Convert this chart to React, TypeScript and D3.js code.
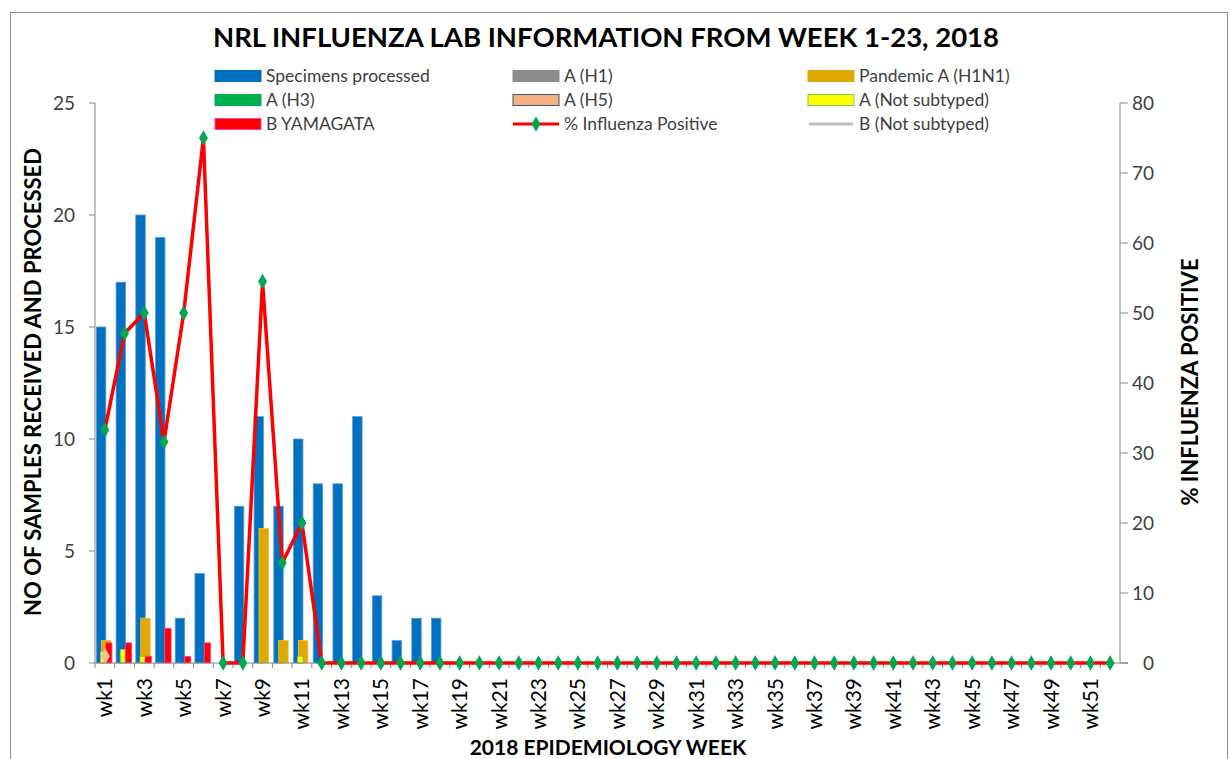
import React from "react";
import * as d3 from "d3";

// weeks 1..52
const weeks: string[] = Array.from({ length: 52 }, (_, i) => "wk" + (i + 1));

const specimens = [15, 17, 20, 19, 2, 4, 0, 7, 11, 7, 10, 8, 8, 11, 3, 1, 2, 2];
const pandemicH1N1 = [1, 0, 2, 0, 0, 0, 0, 0, 6, 1, 1];
const aNotSubtyped = [0.5, 0.6, 0.3, 0, 0, 0, 0, 0, 0, 0, 0.3];
const bYamagata = [0.9, 0.9, 0.3, 1.55, 0.3, 0.9];
const aH5 = [0.3];
const pctPositive = [33.3, 47.1, 50, 31.6, 50, 75, 0, 0, 54.5, 14.3, 20];

const leftTicks = [0, 5, 10, 15, 20, 25];
const rightTicks = [0, 10, 20, 30, 40, 50, 60, 70, 80];

const FONT = "Lato, 'Open Sans', sans-serif";
const TXT = "#404040";
const AXIS = "#868686";

const W = 1231;
const H = 759;
const M = { left: 95, right: 1120, top: 103, bottom: 663 };

const val = (arr: number[], i: number) => (i < arr.length ? arr[i] : 0);

export default function App() {
  const x = d3.scaleBand<string>().domain(weeks).range([M.left, M.right]).padding(0);
  const bw = x.bandwidth();
  const yL = d3.scaleLinear().domain([0, 25]).range([M.bottom, M.top]);
  const yR = d3.scaleLinear().domain([0, 80]).range([M.bottom, M.top]);

  const pct = weeks.map((w, i) => ({ w, v: val(pctPositive, i) }));
  const line = d3
    .line<{ w: string; v: number }>()
    .x((d) => (x(d.w) as number) + bw / 2)
    .y((d) => yR(d.v));

  const diamond = d3.symbol().type(d3.symbolDiamond).size(68)();
  const h5Diamond = d3.symbol().type(d3.symbolDiamond).size(75)();

  // bar series: [values, start frac, end frac, fill, stroke]
  const series: [number[], number, number, string, string][] = [
    [specimens, 0.07, 0.55, "#0070C0", "#5B9BD5"],
    [pandemicH1N1, 0.32, 0.8, "#E0A800", "#F0C040"],
    [aNotSubtyped, 0.28, 0.55, "#FFFF00", "#7CC850"],
    [bYamagata, 0.54, 0.86, "#FF0000", "#FF40A0"],
  ];

  const legend = [
    { label: "Specimens processed", col: 0, row: 0, kind: "rect", fill: "#0070C0", stroke: "#0070C0" },
    { label: "A (H1)", col: 1, row: 0, kind: "rect", fill: "#8C8C8C", stroke: "#8C8C8C" },
    { label: "Pandemic A (H1N1)", col: 2, row: 0, kind: "rect", fill: "#E0A800", stroke: "#E0A800" },
    { label: "A (H3)", col: 0, row: 1, kind: "rect", fill: "#00B050", stroke: "#00B050" },
    { label: "A (H5)", col: 1, row: 1, kind: "rect", fill: "#F4B183", stroke: "#44546A" },
    { label: "A (Not subtyped)", col: 2, row: 1, kind: "rect", fill: "#FFFF00", stroke: "#7CC850" },
    { label: "B YAMAGATA", col: 0, row: 2, kind: "rect", fill: "#FF0000", stroke: "#FF40A0" },
    { label: "% Influenza Positive", col: 1, row: 2, kind: "line", fill: "#FF0000", stroke: "#FF0000" },
    { label: "B (Not subtyped)", col: 2, row: 2, kind: "grey", fill: "#BFBFBF", stroke: "#BFBFBF" },
  ];
  const legCols = [215, 513, 808];
  const legRows = [76, 100, 124];

  return (
    <svg width={W} height={H} style={{ display: "block", position: "absolute", left: 0, top: 0 }}>
      <rect x={0} y={0} width={W} height={H} fill="#fff" />
      <rect x={10.5} y={12.5} width={1217} height={760} fill="none" stroke="#8a8a8a" />

      <text x={606} y={47} textAnchor="middle" fontFamily={FONT} fontWeight="bold" fontSize={27.5} fill="#000">
        NRL INFLUENZA LAB INFORMATION FROM WEEK 1-23, 2018
      </text>

      {/* legend */}
      {legend.map((l) => {
        const lx = legCols[l.col];
        const ly = legRows[l.row];
        return (
          <g key={l.label}>
            {l.kind === "rect" && (
              <rect x={lx} y={ly - 5.5} width={46} height={11} fill={l.fill} stroke={l.stroke} strokeWidth={1} />
            )}
            {l.kind === "line" && (
              <g>
                <line x1={lx} x2={lx + 46} y1={ly} y2={ly} stroke="#FF0000" strokeWidth={3} />
                <path d={diamond as string} transform={`translate(${lx + 23},${ly})`} fill="#00A651" />
              </g>
            )}
            {l.kind === "grey" && (
              <line x1={lx + 2} x2={lx + 44} y1={ly} y2={ly} stroke="#BFBFBF" strokeWidth={3} strokeLinecap="round" />
            )}
            <text x={lx + 51} y={ly + 6} fontFamily={FONT} fontSize={17.5} fill={TXT}>
              {l.label}
            </text>
          </g>
        );
      })}

      {/* bars */}
      {series.map(([arr, a, b, fill, stroke], si) => (
        <g key={si}>
          {weeks.map((w, i) => {
            const v = val(arr, i);
            if (!v) return null;
            const x0 = (x(w) as number) + a * bw;
            return (
              <rect
                key={w}
                x={x0}
                y={yL(v)}
                width={(b - a) * bw}
                height={yL(0) - yL(v)}
                fill={fill}
                stroke={stroke}
                strokeWidth={0.8}
              />
            );
          })}
        </g>
      ))}

      {/* A (H5) */}
      {weeks.map((w, i) => {
        const v = val(aH5, i);
        if (!v) return null;
        return (
          <path
            key={w}
            d={h5Diamond as string}
            transform={`translate(${(x(w) as number) + 0.52 * bw},${yL(v)})`}
            fill="#F7C28F"
          />
        );
      })}

      {/* axes */}
      <line x1={M.left} x2={M.left} y1={M.top} y2={M.bottom} stroke={AXIS} />
      <line x1={M.right} x2={M.right} y1={M.top} y2={M.bottom} stroke={AXIS} />
      <line x1={M.left} x2={M.right + 8} y1={M.bottom} y2={M.bottom} stroke={AXIS} />
      {leftTicks.map((t) => (
        <g key={"l" + t}>
          <line x1={M.left - 6} x2={M.left} y1={yL(t)} y2={yL(t)} stroke={AXIS} />
          <text x={75} y={yL(t) + 6.5} textAnchor="end" fontFamily={FONT} fontSize={19} fill={TXT}>
            {t}
          </text>
        </g>
      ))}
      {rightTicks.map((t) => (
        <g key={"r" + t}>
          <line x1={M.right} x2={M.right + 8} y1={yR(t)} y2={yR(t)} stroke={AXIS} />
          <text x={1154} y={yR(t) + 6.5} textAnchor="end" fontFamily={FONT} fontSize={19} fill={TXT}>
            {t}
          </text>
        </g>
      ))}
      {weeks.map((w) => (
        <line
          key={"t" + w}
          x1={x(w) as number}
          x2={x(w) as number}
          y1={M.bottom}
          y2={M.bottom + 5}
          stroke={AXIS}
        />
      ))}
      {weeks.map((w, i) =>
        i % 2 === 0 ? (
          <text
            key={"xl" + w}
            transform={`translate(${(x(w) as number) + bw / 2 + 7.5},${M.bottom + 15}) rotate(-90)`}
            textAnchor="end"
            fontFamily={FONT}
            fontSize={21}
            fill="#000"
          >
            {w}
          </text>
        ) : null
      )}

      {/* % positive line */}
      <path d={line(pct) as string} fill="none" stroke="#FF0000" strokeWidth={3.5} strokeLinejoin="round" />
      {pct.map((d) => (
        <path
          key={"m" + d.w}
          d={diamond as string}
          transform={`translate(${(x(d.w) as number) + bw / 2},${yR(d.v)})`}
          fill="#00A651"
        />
      ))}

      {/* axis titles */}
      <text
        transform={`translate(41,382) rotate(-90)`}
        textAnchor="middle"
        fontFamily={FONT}
        fontWeight="bold"
        fontSize={22}
        fill="#000"
      >
        NO OF SAMPLES RECEIVED AND PROCESSED
      </text>
      <text
        transform={`translate(1198,382) rotate(-90)`}
        textAnchor="middle"
        fontFamily={FONT}
        fontWeight="bold"
        fontSize={22}
        fill="#000"
      >
        % INFLUENZA POSITIVE
      </text>
      <text x={608} y={755} textAnchor="middle" fontFamily={FONT} fontWeight="bold" fontSize={21} fill="#000">
        2018 EPIDEMIOLOGY WEEK
      </text>
    </svg>
  );
}
